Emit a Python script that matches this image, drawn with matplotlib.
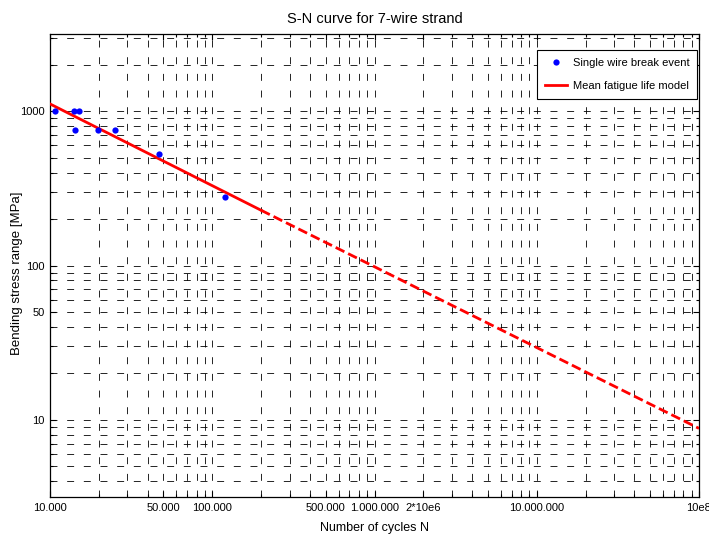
import matplotlib
matplotlib.use('Agg')
import matplotlib.pyplot as plt
from matplotlib.ticker import LogLocator, FixedLocator, FixedFormatter, NullFormatter

plt.rcParams['font.family'] = ['Liberation Sans', 'DejaVu Sans']
plt.rcParams['lines.scale_dashes'] = False  # dash lengths in points

# wire break events (cycles, stress range MPa)
break_N = [10700, 14100, 15100, 14300, 19900, 25200, 47200, 120000]
break_S = [1000, 1000, 1000, 750, 750, 750, 526, 277]

# mean fatigue life model, tested range and extrapolation
model_N = [1e4, 2e5]
model_S = [1114, 228]
extrap_N = [2e5, 1e8]
extrap_S = [228, 8.8]

xtick_vals = [1e4, 5e4, 1e5, 5e5, 1e6, 2e6, 1e7, 1e8]
xtick_labels = ['10.000', '50.000', '100.000', '500.000', '1.000.000',
                '2*10e6', '10.000.000', '10e8']
ytick_vals = [10, 50, 100, 1000]
ytick_labels = ['10', '50', '100', '1000']

fig = plt.figure(figsize=(7.09, 5.36), dpi=100)
ax = fig.add_axes([50/709, 1-497/536, 649/709, 463/536])

ax.plot(break_N, break_S, 'o', color='#0000ff', markersize=4.5,
        markeredgewidth=0, label='Single wire break event', zorder=4)
ax.plot(model_N, model_S, '-', color='#ff0000', lw=2,
        label='Mean fatigue life model', zorder=3)
ax.plot(extrap_N, extrap_S, color='#ff0000', lw=2,
        linestyle=(0, (7, 3)), zorder=3)

ax.set_xscale('log')
ax.set_yscale('log')
ax.set_xlim(1e4, 1e8)
ax.set_ylim(10**0.5, 10**3.5)

ax.xaxis.set_major_locator(FixedLocator(xtick_vals))
ax.xaxis.set_major_formatter(FixedFormatter(xtick_labels))
ax.yaxis.set_major_locator(FixedLocator(ytick_vals))
ax.yaxis.set_major_formatter(FixedFormatter(ytick_labels))
ax.xaxis.set_minor_locator(LogLocator(base=10, subs=range(2, 10), numticks=20))
ax.yaxis.set_minor_locator(LogLocator(base=10, subs=range(2, 10), numticks=20))
ax.xaxis.set_minor_formatter(NullFormatter())
ax.yaxis.set_minor_formatter(NullFormatter())

gridstyle = dict(color='black', linestyle=(0, (5, 7)), linewidth=0.6)
ax.grid(True, which='both', **gridstyle)
ax.set_axisbelow(True)

ax.tick_params(which='both', direction='in', top=True, right=True,
               labelsize=8, width=0.8)
ax.tick_params(which='major', length=4, pad=4)
ax.tick_params(which='minor', length=2.2)
for s in ax.spines.values():
    s.set_linewidth(0.9)

ax.set_title('S-N curve for 7-wire strand', fontsize=10.5, pad=8)
ax.set_xlabel('Number of cycles N', fontsize=9, labelpad=7)
ax.set_ylabel('Bending stress range [MPa]', fontsize=9.5)
ax.yaxis.set_label_coords(-0.041, 0.484)

leg = ax.legend(loc='upper right', bbox_to_anchor=(0.997, 0.965), fontsize=8,
                numpoints=1, fancybox=False, framealpha=1, edgecolor='black',
                borderaxespad=0, handlelength=2.0, handletextpad=0.5,
                labelspacing=1.2, borderpad=0.7)
leg.get_frame().set_linewidth(0.8)

fig.savefig('out.png', dpi=100)
